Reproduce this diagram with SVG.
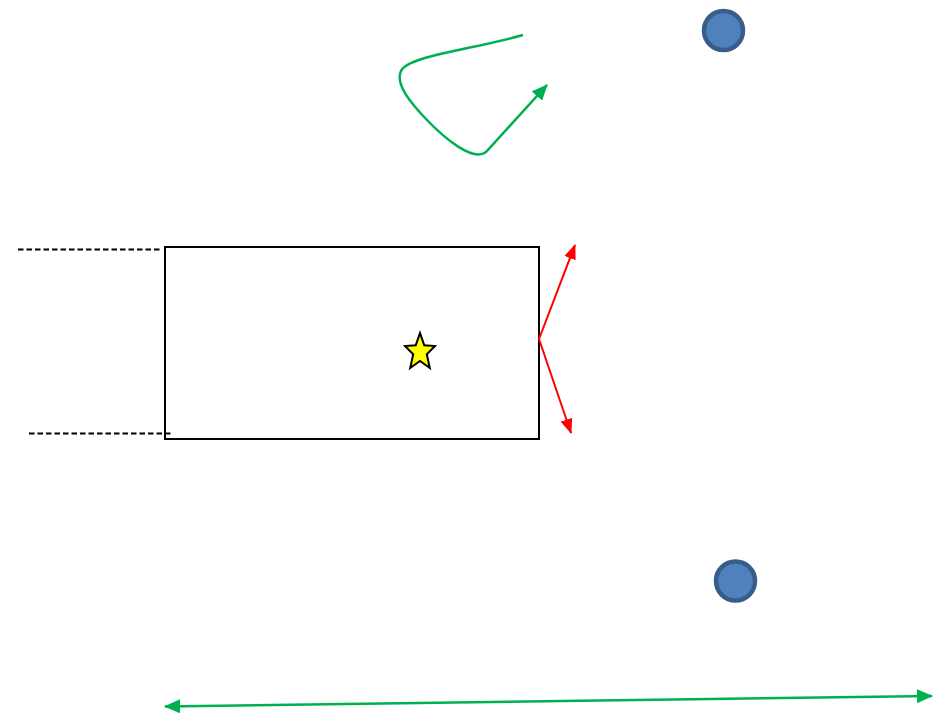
<svg xmlns="http://www.w3.org/2000/svg" width="944" height="723" viewBox="0 0 944 723">
<style>
.dash{stroke:#000;stroke-width:2;stroke-dasharray:5.5,3;fill:none}
.red{stroke:#ff0000;stroke-width:2;fill:none}
.green{stroke:#00b050;stroke-width:2.5;fill:none}
.dot{fill:#4f81bd;stroke:#385d8a;stroke-width:4.5}
</style>
<defs>
<marker id="ar" markerUnits="userSpaceOnUse" markerWidth="15" markerHeight="12" refX="14" refY="6" orient="auto"><path d="M0,0 L15,6 L0,12 z" fill="#ff0000"/></marker>
<marker id="ag" markerUnits="userSpaceOnUse" markerWidth="16" markerHeight="14" refX="15" refY="7" orient="auto"><path d="M0,0 L16,7 L0,14 z" fill="#00b050"/></marker>
<marker id="ags" markerUnits="userSpaceOnUse" markerWidth="16" markerHeight="14" refX="1" refY="7" orient="auto"><path d="M16,0 L0,7 L16,14 z" fill="#00b050"/></marker>
</defs>
<g id="box"><rect x="165" y="247" width="374" height="192" fill="none" stroke="#000" stroke-width="2"/></g>
<g id="star"><polygon points="420,333 424.2,345.2 435,346 426.8,354.3 429.8,368 420,361 410.2,368 413.2,354.3 405,346 415.8,345.2" fill="#ffff00" stroke="#000" stroke-width="2" stroke-linejoin="miter"/></g>
<g id="dot1"><circle class="dot" cx="723.5" cy="30.5" r="19.5"/></g>
<g id="dot2"><circle class="dot" cx="735.5" cy="581" r="19.5"/></g>
<g id="connectors">
<line class="dash" x1="18" y1="249.5" x2="160" y2="249.5"/>
<line class="dash" x1="29" y1="433.5" x2="171" y2="433.5"/>
<line class="red" x1="539" y1="339" x2="575" y2="245" marker-end="url(#ar)"/>
<line class="red" x1="539" y1="339" x2="571" y2="433" marker-end="url(#ar)"/>
<path class="green" d="M523,35 C470,50 408,56 401,71 C395,84 410,102 425,118 C445,139 473,162 486,152 L547,85" marker-end="url(#ag)"/>
<line class="green" x1="165" y1="706.5" x2="932" y2="696" stroke-width="2.2" marker-start="url(#ags)" marker-end="url(#ag)"/>
</g>
</svg>
